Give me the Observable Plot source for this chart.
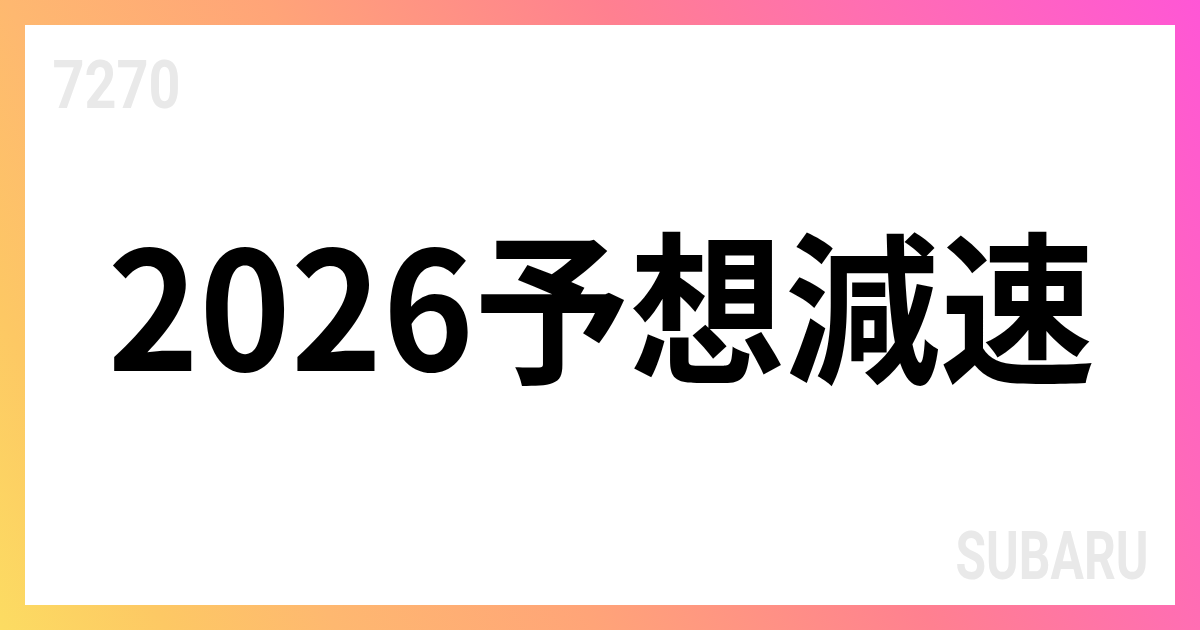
<!DOCTYPE html>
<html>
<head>
<meta charset="utf-8">
<script src="https://cdn.jsdelivr.net/npm/d3@7"></script>
<script src="https://cdn.jsdelivr.net/npm/@observablehq/plot@0.6"></script>
<style>
  html, body { margin: 0; padding: 0; background: #fff; }
  #chart svg { display: block; }
</style>
</head>
<body>
<div id="chart"></div>
<script>
// ---- content ----
const titleText = ["2026予想減速"];
const codeLabel = ["7270"];
const brandLabel = ["SUBARU"];

// ---- styling / layout ----
const W = 1200, H = 630;
const frame = [{x1: 0, x2: W, y1: 0, y2: H}];
const panel = [{x1: 25, x2: 1175, y1: 25, y2: 605}];
const gradStops = [
  [0.00, "#fcdc62"], [0.11, "#fdc864"], [0.22, "#feb870"], [0.39, "#ffa478"],
  [0.61, "#ff8090"], [0.78, "#ff6eb2"], [0.89, "#ff62c4"], [1.00, "#ff56d6"]
];

function defsMark() {
  const defs = d3.create("svg:defs");
  const g = defs.append("linearGradient")
    .attr("id", "bgGrad").attr("gradientUnits", "userSpaceOnUse")
    .attr("x1", 0).attr("y1", H).attr("x2", W).attr("y2", 0);
  for (const [o, c] of gradStops) g.append("stop").attr("offset", o).attr("stop-color", c);
  return defs.node();
}

const chart = Plot.plot({
  width: W, height: H,
  margin: 0,
  x: {domain: [0, W], range: [0, W], axis: null},
  y: {domain: [0, H], range: [0, H], axis: null},
  style: {background: "#fff", overflow: "visible"},
  marks: [
    defsMark,
    Plot.rect(frame, {x1: "x1", x2: "x2", y1: "y1", y2: "y2", fill: "url(#bgGrad)"}),
    Plot.rect(panel, {x1: "x1", x2: "x2", y1: "y1", y2: "y2", fill: "#ffffff"}),
    Plot.text(codeLabel, {
      x: () => 52, y: () => 107, text: d => d,
      textAnchor: "start", lineAnchor: "bottom",
      fontFamily: "Roboto, 'Noto Sans', sans-serif", fontWeight: 700, fontSize: 67,
      fill: "#e9e9e9"
    }),
    Plot.text(brandLabel, {
      x: () => 955, y: () => 578, text: d => d,
      textAnchor: "start", lineAnchor: "bottom",
      fontFamily: "Roboto, 'Noto Sans', sans-serif", fontWeight: 700, fontSize: 67,
      fill: "#e9e9e9"
    }),
    Plot.text(titleText, {
      x: () => 107, y: () => 370, text: d => d,
      textAnchor: "start", lineAnchor: "bottom",
      fontFamily: "'Noto Sans CJK JP', 'Noto Sans CJK SC', sans-serif", fontWeight: 700, fontSize: 164,
      fill: "#000000"
    })
  ]
});

document.getElementById("chart").appendChild(chart);

// fit text widths to the reference layout: shrink the font to the target width,
// then stretch vertically back to the original cap height
const fit = new Map([[codeLabel[0], [128, 67]], [brandLabel[0], [193, 67]], [titleText[0], [988, 164]]]);
d3.select(chart).selectAll("text").each(function() {
  const t = this.textContent;
  if (!fit.has(t)) return;
  const [target, size] = fit.get(t);
  const natural = this.getComputedTextLength();
  if (!natural) return;
  const newSize = size * target / natural;
  const sy = size / newSize;
  this.style.fontSize = newSize + "px";
  const tr = this.getAttribute("transform") || "";
  this.setAttribute("transform", `${tr} scale(1,${sy.toFixed(4)})`);
});
</script>
</body>
</html>
